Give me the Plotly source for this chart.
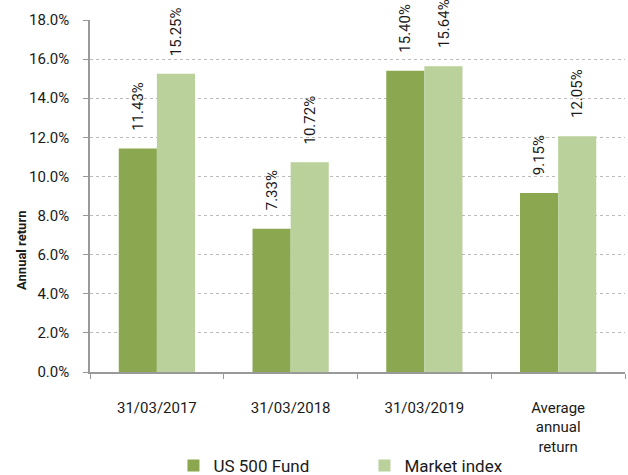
import plotly.graph_objects as go

categories = ["31/03/2017", "31/03/2018", "31/03/2019", "Average<br>annual<br>return"]
fund_values = [11.43, 7.33, 15.40, 9.15]
index_values = [15.25, 10.72, 15.64, 12.05]
series_names = ["US 500 Fund", "Market index"]
y_ticks = [0, 2, 4, 6, 8, 10, 12, 14, 16, 18]
y_title = "Annual return"

font = dict(family="Roboto, Arial, sans-serif", size=15, color="#1a1a1a")
colors = ["#8ba74f", "#bad19b"]

fig = go.Figure()
for name, vals, col in [(series_names[0], fund_values, colors[0]),
                        (series_names[1], index_values, colors[1])]:
    fig.add_trace(go.Bar(
        x=categories, y=vals, name=name, marker=dict(color=col, line=dict(width=0)),
    ))

# value labels, rotated, above each bar
for vals, shift in [(fund_values, -19), (index_values, 19)]:
    for c, v in zip(categories, vals):
        fig.add_annotation(
            x=c, y=v, xref="x", yref="y", text=f"{v:.2f}%", textangle=-90,
            showarrow=False, xshift=shift, yshift=16, yanchor="bottom",
            font=dict(family=font["family"], size=15, color="#1a1a1a"),
        )

# y-axis title (placed off-centre, as in the original)
fig.add_annotation(
    x=-0.127, y=0.344, xref="paper", yref="paper", text=f"<b>{y_title}</b>",
    textangle=-90, showarrow=False, xanchor="center", yanchor="middle",
    font=dict(family=font["family"], size=13, color="#1a1a1a"),
)

fig.update_layout(
    width=628, height=475,
    margin=dict(l=90, r=3, t=20, b=103, autoexpand=False),
    paper_bgcolor="white", plot_bgcolor="white",
    barmode="group", bargap=0.43, bargroupgap=0,
    font=font,
    showlegend=True,
    legend=dict(orientation="h", x=0.156, xanchor="left", y=-0.267, yanchor="middle",
                bgcolor="rgba(0,0,0,0)",
                font=dict(size=17, family=font["family"], color="#1a1a1a"),
                itemwidth=30, entrywidth=146, entrywidthmode="pixels",
                traceorder="normal"),
)
fig.update_xaxes(
    type="category", showline=True, linecolor="#999999", linewidth=1.5,
    ticks="outside", tickson="boundaries", ticklen=5, tickcolor="#999999",
    ticklabelstandoff=21, showgrid=False, tickfont=dict(size=15), automargin=False,
)
fig.update_yaxes(
    range=[0, 18], tickvals=y_ticks, ticktext=[f"{v:.1f}%" for v in y_ticks],
    showline=True, linecolor="#999999", linewidth=1.5,
    ticks="outside", ticklen=5, tickcolor="#999999",
    showgrid=True, gridcolor="#bbbbbb", griddash="dot", gridwidth=1,
    zeroline=False, tickfont=dict(size=15), ticklabelstandoff=11, automargin=False,
)
fig.write_html("out.html", config={"displayModeBar": False},
               post_script="document.body.style.margin='0';")
